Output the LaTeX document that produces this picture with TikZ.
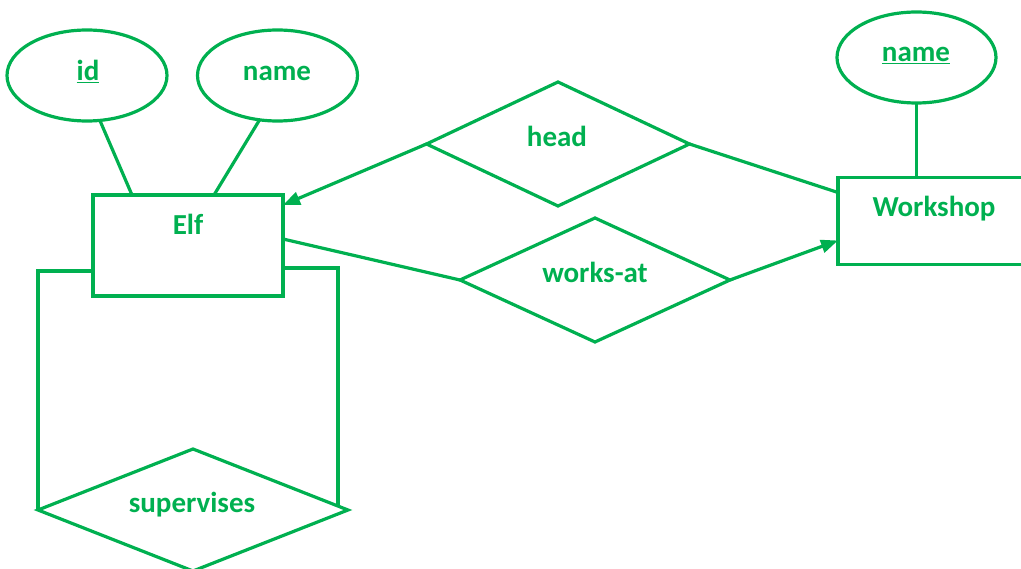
\documentclass[tikz,border=0pt]{standalone}
\usepackage{fontspec}
\setmainfont{Carlito}
\usetikzlibrary{shapes.geometric,arrows.meta}
\definecolor{ergreen}{HTML}{00B050}
\begin{document}
\begin{tikzpicture}[x=1pt,y=-1pt,
  conn/.style={draw=ergreen,line width=3.2pt},
  ent/.style={draw=ergreen,line width=3.2pt,rectangle,inner sep=0pt,outer sep=0pt},
  attr/.style={draw=ergreen,line width=3.2pt,ellipse,inner sep=0pt,outer sep=0pt},
  rel/.style={draw=ergreen,line width=3.2pt,diamond,inner sep=0pt,outer sep=0pt},
  lbl/.style={text=ergreen,font=\fontsize{29}{35}\selectfont\bfseries,inner sep=0pt,anchor=base},
  tri/.style={conn,-{Triangle[length=17pt,width=13pt]}}
]
\useasboundingbox (0,0) rectangle (1021,569);
\clip (0,0) rectangle (1021,569);
% attributes
\node[attr,minimum width=160pt,minimum height=91pt] (id) at (87,75.5) {};
\node[attr,minimum width=160pt,minimum height=91pt] (ename) at (277.5,75.5) {};
\node[attr,minimum width=159pt,minimum height=91pt] (wname) at (916.5,57.5) {};
% entities
\node[ent,minimum width=190pt,minimum height=101pt] (elf) at (188,245.5) {};
\node[ent,minimum width=210pt,minimum height=87pt] (ws) at (943,221) {};
% relationships
\node[rel,minimum width=263pt,minimum height=124pt] (head) at (558,144) {};
\node[rel,minimum width=270pt,minimum height=124pt] (works) at (595,280) {};
\node[rel,minimum width=310pt,minimum height=122pt] (sup) at (193,510) {};
% labels
\node[lbl] (tid) at (88,81) {\underline{id}};
\node[lbl] (tename) at (277,81) {name};
\node[lbl] (twname) at (916,62) {\underline{name}};
\node[lbl] (telf) at (188,235) {Elf};
\node[lbl] (tws) at (934,217) {Workshop};
\node[lbl] (thead) at (557,147) {head};
\node[lbl] (tworks) at (595,283) {works-at};
\node[lbl] (tsup) at (192,512) {supervises};
% connectors
\draw[conn] (id.-74) -- ([xshift=39pt]elf.north west);
\draw[conn] (ename.-112) -- ([xshift=121pt]elf.north west);
\draw[conn] (wname.south) -- (wname.south |- ws.north);
\draw[tri] (head.west) -- ([yshift=-10pt]elf.north east);
\draw[conn] (head.east) -- ([yshift=-15pt]ws.north west);
\draw[conn] (works.west) -- ([yshift=-44pt]elf.north east);
\draw[tri] (works.east) -- ([yshift=-63pt]ws.north west);
\draw[conn] ([yshift=-76pt]elf.north west) -| (sup.west);
\coordinate (supr) at ([xshift=-10pt,yshift=4pt]sup.east);
\draw[conn] ([yshift=-73pt]elf.north east) -| (supr);
\end{tikzpicture}
\end{document}
